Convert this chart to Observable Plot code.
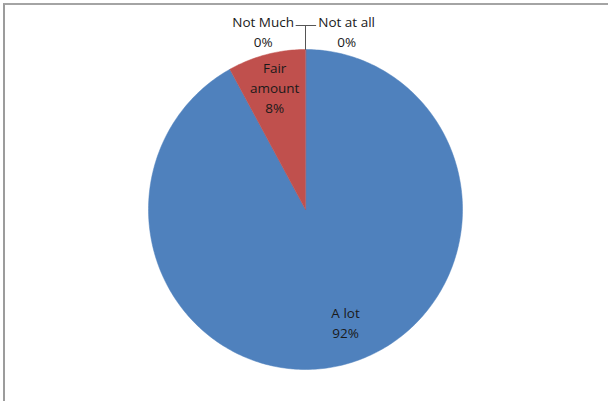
<!DOCTYPE html>
<html>
<head>
<meta charset="utf-8">
<script src="https://cdn.jsdelivr.net/npm/d3@7"></script>
<script src="https://cdn.jsdelivr.net/npm/@observablehq/plot@0.6"></script>
<style>
  html, body { margin: 0; padding: 0; background: #fff; }
  #wrap { position: relative; width: 608px; height: 401px; overflow: hidden; background: #fff; }
  #frame { position: absolute; left: 3px; top: 3px; width: 620px; height: 410px;
           border-left: 2px solid #9c9c9c; border-top: 2px solid #a4a4a4; box-sizing: border-box; }
  #chart { position: absolute; left: 0; top: 0; }
</style>
</head>
<body>
<div id="wrap"><div id="frame"></div><div id="chart"></div></div>
<script>
// ---- data ----
const categories = ["A lot", "Fair amount", "Not Much", "Not at all"];
const values = [92, 8, 0, 0];
const percentLabels = ["92%", "8%", "0%", "0%"];
const colors = ["#4f81bd", "#c0504d", "#9bbb59", "#8064a2"];

// ---- layout (label placement in pie units) ----
const labelPlacement = {
  "A lot": {dx: 0.255, dy: -0.70, lines: ["A lot"]},
  "Fair amount": {angleMid: true, r: 0.79, lines: ["Fair", "amount"]},
  "Not Much": {dx: -0.27, dy: 1.12, lines: ["Not Much"]},
  "Not at all": {dx: 0.262, dy: 1.12, lines: ["Not at all"]}
};

const pie = d3.pie().sort(null).value(d => d.value);
const rows = categories.map((c, i) => ({category: c, value: values[i], pct: percentLabels[i], color: colors[i]}));
const arcs = pie(rows);

// polygon points for each slice
const slicePts = [];
for (const a of arcs) {
  if (a.endAngle - a.startAngle <= 0) continue;
  slicePts.push({category: a.data.category, x: 0, y: 0, color: a.data.color});
  const n = Math.max(2, Math.ceil((a.endAngle - a.startAngle) / (Math.PI / 180)));
  for (let k = 0; k <= n; k++) {
    const t = a.startAngle + (a.endAngle - a.startAngle) * k / n;
    slicePts.push({category: a.data.category, x: Math.sin(t), y: Math.cos(t), color: a.data.color});
  }
}

// labels
const labels = arcs.map(a => {
  const p = labelPlacement[a.data.category];
  let x, y;
  if (p.angleMid) {
    const m = (a.startAngle + a.endAngle) / 2;
    x = p.r * Math.sin(m); y = p.r * Math.cos(m);
  } else { x = p.dx; y = p.dy; }
  return {x, y, text: [...p.lines, a.data.pct].join("\n")};
});

// leader lines for zero slices
const zeroArcs = arcs.filter(a => a.data.value === 0);
const edgeAngle = zeroArcs.length ? zeroArcs[0].startAngle : 0;
const ex = Math.sin(edgeAngle), ey = Math.cos(edgeAngle);
const leaderY = 1.15;
const leaders = [
  {g: "v", x: ex, y: ey}, {g: "v", x: ex, y: leaderY},
  {g: "h", x: ex - 0.06, y: leaderY}, {g: "h", x: ex + 0.065, y: leaderY}
];

const chart = Plot.plot({
  width: 608,
  height: 401,
  marginLeft: 148,
  marginRight: 146,
  marginTop: 49,
  marginBottom: 32,
  x: {domain: [-1, 1], axis: null},
  y: {domain: [-1, 1], axis: null},
  style: {background: "transparent", fontFamily: "'Open Sans', sans-serif"},
  marks: [
    Plot.line(slicePts, {x: "x", y: "y", z: "category", fill: "color", stroke: "color", strokeWidth: 0.5, curve: "linear-closed"}),
    Plot.line(leaders, {x: "x", y: "y", z: "g", stroke: "#555", strokeWidth: 1}),
    Plot.text(labels, {x: "x", y: "y", text: "text", fontSize: 13.5, lineHeight: 1.48, fill: "#1a1a1a"})
  ]
});
document.getElementById("chart").appendChild(chart);
</script>
</body>
</html>
